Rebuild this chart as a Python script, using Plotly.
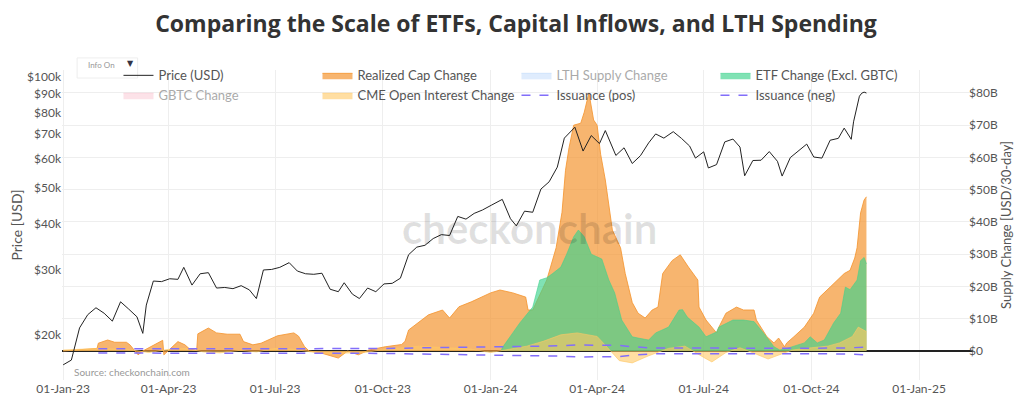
import plotly.graph_objects as go

# BTC price (USD)
price_dates = ["2023-01-01", "2023-01-08", "2023-01-15", "2023-01-22", "2023-01-29", "2023-02-05", "2023-02-12",
               "2023-02-19", "2023-02-26", "2023-03-05", "2023-03-10", "2023-03-13", "2023-03-19", "2023-03-26",
               "2023-04-02", "2023-04-09", "2023-04-14", "2023-04-21", "2023-04-28", "2023-05-05", "2023-05-12",
               "2023-05-19", "2023-05-26", "2023-06-02", "2023-06-09", "2023-06-15", "2023-06-21", "2023-06-28",
               "2023-07-05", "2023-07-13", "2023-07-20", "2023-07-27", "2023-08-03", "2023-08-10", "2023-08-17",
               "2023-08-24", "2023-08-29", "2023-09-05", "2023-09-11", "2023-09-18", "2023-09-25", "2023-10-02",
               "2023-10-09", "2023-10-16", "2023-10-23", "2023-10-30", "2023-11-06", "2023-11-13", "2023-11-20",
               "2023-11-27", "2023-12-04", "2023-12-11", "2023-12-18", "2023-12-25", "2024-01-02", "2024-01-11",
               "2024-01-18", "2024-01-23", "2024-01-30", "2024-02-06", "2024-02-13", "2024-02-20", "2024-02-27",
               "2024-03-04", "2024-03-13", "2024-03-20", "2024-03-27", "2024-04-03", "2024-04-08", "2024-04-17",
               "2024-04-24", "2024-05-01", "2024-05-08", "2024-05-15", "2024-05-21", "2024-05-28", "2024-06-05",
               "2024-06-12", "2024-06-19", "2024-06-24", "2024-07-01", "2024-07-05", "2024-07-12", "2024-07-19",
               "2024-07-26", "2024-08-01", "2024-08-05", "2024-08-12", "2024-08-19", "2024-08-26", "2024-09-02",
               "2024-09-06", "2024-09-13", "2024-09-20", "2024-09-27", "2024-10-03", "2024-10-10", "2024-10-17",
               "2024-10-24", "2024-10-29", "2024-11-04", "2024-11-06", "2024-11-11", "2024-11-13", "2024-11-15",
               "2024-11-17"]
price = [16600, 17100, 20900, 22700, 23700, 22900, 21800, 24600, 23500, 22400, 20200, 24100, 28000, 27900,
         28400, 28300, 30500, 27300, 29300, 29500, 26800, 26900, 26700, 27200, 26500, 25100, 30000, 30100,
         30500, 31400, 29800, 29300, 29200, 29400, 26600, 26200, 27700, 25800, 25100, 26800, 26200, 27500,
         27600, 28500, 33000, 34600, 35000, 36500, 37400, 37200, 41900, 41200, 42700, 43600, 45000, 46600,
         41300, 39500, 43300, 43000, 49700, 52000, 57000, 68300, 73100, 63000, 69400, 66000, 71600, 61300,
         64300, 58300, 61200, 66300, 70100, 68300, 71100, 68200, 65000, 60300, 62700, 56700, 57900, 66700,
         67900, 64600, 54000, 59400, 59500, 62800, 59100, 53900, 60500, 63200, 65800, 60700, 60300, 67400,
         68200, 72700, 67800, 75600, 88700, 90400, 91000, 90500]

# Realized cap change, USD billions / 30 days
rc_dates = ["2023-01-01", "2023-01-15", "2023-01-30", "2023-01-31", "2023-02-08", "2023-02-14", "2023-02-24",
            "2023-02-27", "2023-03-06", "2023-03-10", "2023-03-25", "2023-03-27", "2023-03-28", "2023-04-02",
            "2023-04-09", "2023-04-15", "2023-04-19", "2023-04-25", "2023-04-26", "2023-05-05", "2023-05-12",
            "2023-05-21", "2023-06-01", "2023-06-04", "2023-06-12", "2023-06-19", "2023-07-03", "2023-07-17",
            "2023-07-21", "2023-07-26", "2023-07-30", "2023-08-09", "2023-08-24", "2023-09-01", "2023-09-10",
            "2023-09-19", "2023-10-03", "2023-10-17", "2023-10-20", "2023-10-23", "2023-11-09", "2023-11-21",
            "2023-11-27", "2023-12-05", "2023-12-16", "2024-01-01", "2024-01-09", "2024-01-20", "2024-01-31",
            "2024-02-02", "2024-02-06", "2024-02-18", "2024-02-26", "2024-03-02", "2024-03-05", "2024-03-08",
            "2024-03-12", "2024-03-18", "2024-03-21", "2024-03-25", "2024-03-29", "2024-04-01", "2024-04-04",
            "2024-04-08", "2024-04-14", "2024-04-21", "2024-04-25", "2024-05-01", "2024-05-06", "2024-05-12",
            "2024-05-18", "2024-05-23", "2024-05-27", "2024-06-04", "2024-06-11", "2024-06-18", "2024-06-26",
            "2024-06-27", "2024-07-03", "2024-07-12", "2024-07-14", "2024-07-20", "2024-07-29", "2024-08-04",
            "2024-08-13", "2024-08-15", "2024-08-24", "2024-08-30", "2024-09-03", "2024-09-08", "2024-09-10",
            "2024-09-16", "2024-09-25", "2024-10-03", "2024-10-08", "2024-10-17", "2024-10-23", "2024-10-29",
            "2024-11-03", "2024-11-07", "2024-11-09", "2024-11-12", "2024-11-15", "2024-11-17"]
realized_cap = [0.0, 0.3, 0.8, 2.4, 3.4, 2.7, 2.7,
                1.9, -1.2, 0.0, 2.9, 3.3, -1.2, 0.5,
                2.9, 1.9, 0.6, 0.2, 5.3, 7.1, 5.6,
                5.2, 5.2, 2.9, 1.9, 2.4, 4.7, 5.6,
                4.6, 1.4, 0.0, -0.6, -2.2, 0.0, -1.2,
                0.3, 1.3, 2.0, 3.0, 6.5, 11.2, 12.7,
                10.2, 13.7, 15.3, 18.0, 18.9, 18.0, 16.7,
                12.7, 12.7, 22.0, 32.0, 43.0, 56.0, 63.0,
                70.0, 70.6, 74.0, 80.0, 71.6, 70.0, 61.0,
                53.0, 37.5, 32.0, 24.0, 15.0, 11.7, 10.2,
                12.7, 13.6, 24.0, 28.0, 29.8, 26.0, 22.0,
                13.6, 9.6, 5.6, 7.4, 11.7, 13.6, 12.7,
                12.7, 9.6, 4.4, 2.5, 4.0, 1.3, 2.5,
                4.4, 7.4, 11.7, 16.7, 19.8, 22.0, 24.0,
                25.0, 28.8, 32.0, 42.8, 46.8, 47.8]

# ETF change (excl. GBTC), USD billions / 30 days
etf_dates = ["2024-01-10", "2024-01-11", "2024-01-26", "2024-02-06", "2024-02-12", "2024-02-18", "2024-02-23",
             "2024-03-01", "2024-03-06", "2024-03-12", "2024-03-16", "2024-03-21", "2024-03-27", "2024-04-05",
             "2024-04-11", "2024-04-16", "2024-04-22", "2024-05-01", "2024-05-06", "2024-05-15", "2024-05-21",
             "2024-06-01", "2024-06-10", "2024-06-13", "2024-06-17", "2024-06-27", "2024-07-03", "2024-07-12",
             "2024-07-14", "2024-07-26", "2024-08-04", "2024-08-13", "2024-08-21", "2024-08-30", "2024-09-04",
             "2024-09-10", "2024-09-25", "2024-09-30", "2024-10-06", "2024-10-12", "2024-10-20", "2024-10-26",
             "2024-10-30", "2024-11-03", "2024-11-09", "2024-11-12", "2024-11-15", "2024-11-17"]
etf_change = [0.0, 1.0, 8.7, 13.6, 22.0, 22.7, 24.0,
              26.0, 30.0, 35.4, 37.5, 35.4, 30.0, 28.5,
              22.0, 18.0, 9.6, 4.4, 4.0, 3.4, 5.6,
              7.4, 12.7, 12.8, 10.5, 7.4, 4.4, 5.9,
              7.4, 9.6, 9.6, 9.1, 5.6, 1.3, 0.3,
              0.8, 2.5, 4.4, 2.5, 3.4, 8.7, 11.7,
              19.8, 19.0, 22.0, 28.0, 29.0, 27.0]

# CME open interest change, USD billions / 30 days
cme_dates = ["2023-01-01", "2023-01-15", "2023-02-01", "2023-02-15", "2023-03-01", "2023-03-15", "2023-04-01",
             "2023-04-15", "2023-05-01", "2023-05-15", "2023-06-01", "2023-06-15", "2023-07-01", "2023-07-15",
             "2023-08-01", "2023-08-15", "2023-09-01", "2023-09-15", "2023-10-01", "2023-10-15", "2023-11-01",
             "2023-11-15", "2023-12-01", "2023-12-15", "2024-01-01", "2024-01-15", "2024-02-01", "2024-02-15",
             "2024-03-01", "2024-03-15", "2024-04-01", "2024-04-10", "2024-04-20", "2024-05-01", "2024-05-15",
             "2024-06-01", "2024-06-15", "2024-07-01", "2024-07-08", "2024-07-20", "2024-08-01", "2024-08-15",
             "2024-08-25", "2024-09-05", "2024-09-15", "2024-10-01", "2024-10-15", "2024-10-25", "2024-11-05",
             "2024-11-10", "2024-11-17"]
cme_change = [0.3, 0.5, 0.8, 0.6, 0.3, -0.5, 0.5,
              0.8, -0.3, -0.6, 0.2, -0.3, 0.8, 0.6,
              -0.3, -0.8, -0.6, -0.5, 0.4, 0.9, 1.5,
              1.2, 1.0, 0.6, -0.5, 0.3, 1.5, 3.0,
              5.0, 5.6, 4.5, 1.0, -3.0, -3.7, -1.5,
              0.8, 1.5, -2.0, -3.4, -0.5, 1.0, -1.0,
              -2.5, -1.0, 0.3, 1.0, 1.5, 2.5, 4.5,
              7.4, 6.0]

# 30-day issuance, USD billions
iss_dates = ["2023-01-31", "2023-03-01", "2023-04-01", "2023-05-01", "2023-06-01", "2023-07-01", "2023-08-01",
             "2023-09-01", "2023-10-01", "2023-11-01", "2023-12-01", "2024-01-01", "2024-02-01", "2024-03-01",
             "2024-03-15", "2024-04-01", "2024-04-19", "2024-05-01", "2024-05-20", "2024-06-01", "2024-07-01",
             "2024-08-01", "2024-09-01", "2024-10-01", "2024-11-01", "2024-11-17"]
issuance = [0.65, 0.65, 0.75, 0.8, 0.75, 0.8, 0.85,
            0.75, 0.75, 0.95, 1.1, 1.25, 1.3, 1.6,
            1.85, 1.9, 1.75, 1.3, 0.9, 0.9, 0.85,
            0.85, 0.8, 0.85, 0.95, 1.2]

# hidden (legend only) series
lth_dates = ["2023-01-01"]
lth_change = [0.0]
gbtc_dates = ["2023-01-01"]
gbtc_change = [0.0]

supply_ticks = [0, 10, 20, 30, 40, 50, 60, 70, 80]
supply_labels = ["$0", "$10B", "$20B", "$30B", "$40B", "$50B", "$60B", "$70B", "$80B"]
price_ticks = [20000, 30000, 40000, 50000, 60000, 70000, 80000, 90000, 100000]
price_labels = ["$20k", "$30k", "$40k", "$50k", "$60k", "$70k", "$80k", "$90k", "$100k"]

fig = go.Figure()

fig.add_trace(go.Scatter(x=rc_dates, y=realized_cap, name="Realized Cap Change", legendrank=2,
                         mode="lines", fill="tozeroy", line=dict(color="rgba(244,150,50,0.85)", width=1),
                         fillcolor="rgba(244,150,50,0.7)"))
fig.add_trace(go.Scatter(x=lth_dates, y=lth_change, name="LTH Supply Change", legendrank=3, visible="legendonly",
                         mode="lines", fill="tozeroy", line=dict(color="rgba(150,195,250,0.8)", width=1),
                         fillcolor="rgba(150,195,250,0.6)"))
fig.add_trace(go.Scatter(x=etf_dates, y=etf_change, name="ETF Change (Excl. GBTC)", legendrank=4,
                         mode="lines", fill="tozeroy", line=dict(color="rgba(60,210,140,0.55)", width=1),
                         fillcolor="rgba(60,210,140,0.65)"))
fig.add_trace(go.Scatter(x=gbtc_dates, y=gbtc_change, name="GBTC Change", legendrank=5, visible="legendonly",
                         mode="lines", fill="tozeroy", line=dict(color="rgba(245,160,180,0.8)", width=1),
                         fillcolor="rgba(245,160,180,0.6)"))
fig.add_trace(go.Scatter(x=cme_dates, y=cme_change, name="CME Open Interest Change", legendrank=6,
                         mode="lines", fill="tozeroy", line=dict(color="rgba(255,200,100,0.6)", width=1),
                         fillcolor="rgba(255,200,100,0.6)"))
fig.add_trace(go.Scatter(x=iss_dates, y=issuance, name="Issuance (pos)", legendrank=7, mode="lines",
                         line=dict(color="rgb(130,110,250)", width=1.5, dash="dash")))
fig.add_trace(go.Scatter(x=iss_dates, y=[-v for v in issuance], name="Issuance (neg)", legendrank=8,
                         mode="lines", line=dict(color="rgb(130,110,250)", width=1.5, dash="dash")))
fig.add_trace(go.Scatter(x=price_dates, y=price, name="Price (USD)", legendrank=1, yaxis="y2",
                         mode="lines", line=dict(color="#222", width=1)))

axis_font = dict(family="Lato", size=12, color="#555")
title_font = dict(family="Lato", size=14, color="#555")

# the page body adds an 8px offset, so the figure is 8px smaller than the window
fig.update_layout(
    width=1016, height=400,
    margin=dict(l=54, r=51, t=62, b=28, autoexpand=False),
    paper_bgcolor="white", plot_bgcolor="white",
    font=dict(family="Lato", color="#444"),
    title=dict(text="<b>Comparing the Scale of ETFs, Capital Inflows, and LTH Spending</b>",
               x=0.5, xanchor="center", y=0.96, yanchor="middle",
               font=dict(family="Open Sans", size=23, color="#333")),
    showlegend=True,
    legend=dict(orientation="h", x=0.062, y=1.031, xanchor="left", yanchor="top",
                entrywidth=154, entrywidthmode="pixels", bgcolor="rgba(0,0,0,0)",
                font=dict(family="Lato", size=13, color="#555"), itemwidth=30),
    xaxis=dict(type="date", range=["2022-12-31", "2025-02-16"], tick0="2023-01-01", dtick="M3",
               tickformat="%d-%b-%y", showgrid=True, gridcolor="#eeeeee", zeroline=False,
               showline=False, tickfont=axis_font, ticks="", automargin=False),
    yaxis=dict(side="right", range=[-9.0, 87.1], tickvals=supply_ticks, ticktext=supply_labels,
               showgrid=True, gridcolor="#eeeeee", zeroline=True, zerolinecolor="#222", zerolinewidth=2,
               tickfont=axis_font, automargin=False, ticks="", ticklen=0, ticklabelstandoff=-5,
               title=dict(text="Supply Change [USD/30-day]", font=dict(family="Lato", size=13, color="#555"),
                          standoff=4)),
    yaxis2=dict(overlaying="y", side="left", type="log", range=[4.179, 5.019],
                tickvals=price_ticks, ticktext=price_labels, showgrid=False, zeroline=False,
                tickfont=axis_font, automargin=False, ticks="",
                title=dict(text="Price [USD]", font=title_font, standoff=4)),
    shapes=[dict(type="rect", xref="paper", yref="paper", x0=0.0166, x1=0.083, y0=0.974, y1=1.039,
                 fillcolor="white", line=dict(color="#eeeeee", width=1), layer="below")],
    annotations=[
        dict(text="Source: checkonchain.com", xref="paper", yref="paper", x=0.011, y=0.025,
             xanchor="left", yanchor="middle", showarrow=False,
             font=dict(family="Lato", size=10, color="#999")),
        dict(text="<b>checkonchain</b>", xref="paper", yref="paper", x=0.513, y=0.49,
             xanchor="center", yanchor="middle", showarrow=False,
             font=dict(family="Lato", size=42, color="rgba(0,0,0,0.12)")),
        dict(text="Info On", xref="paper", yref="paper", x=0.026, y=1.016,
             xanchor="left", yanchor="middle", showarrow=False,
             font=dict(family="Lato", size=8, color="#999")),
        dict(text="▼", xref="paper", yref="paper", x=0.075, y=1.02,
             xanchor="center", yanchor="middle", showarrow=False,
             font=dict(family="DejaVu Sans", size=8, color="#334")),
    ],
)

fig.write_html("out.html")
